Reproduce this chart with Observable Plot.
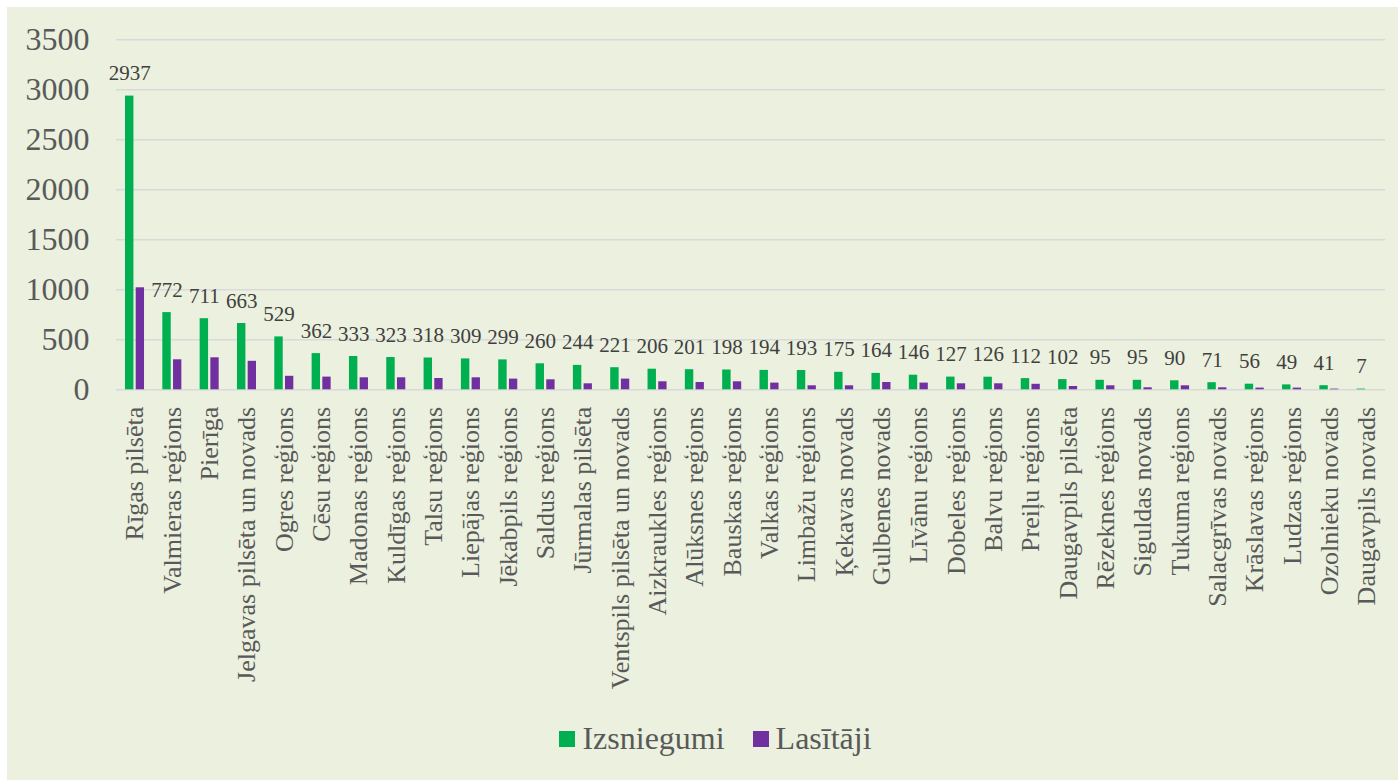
<!DOCTYPE html>
<html>
<head>
<meta charset="utf-8">
<script src="https://cdn.jsdelivr.net/npm/d3@7"></script>
<script src="https://cdn.jsdelivr.net/npm/@observablehq/plot@0.6"></script>
<style>
  html, body { margin: 0; padding: 0; background: #ffffff; }
  #frame { position: absolute; left: 7px; top: 7px; width: 1391px; height: 773px; background: #ebf1de; overflow: hidden; }
  #chart { position: absolute; left: 0; top: 0; }
  #legend { position: absolute; left: 13px; width: 1391px; top: 713px; display: flex; justify-content: center; align-items: center;
            font-family: "Liberation Serif", "Times New Roman", serif; font-size: 32px; color: #595959; }
  .item { display: flex; align-items: center; margin: 0 14px; }
  .sw { width: 16px; height: 16px; margin-right: 7px; }
</style>
</head>
<body>
<div id="frame">
  <div id="chart"></div>
  <div id="legend"></div>
</div>
<script>
const categories = [
  "Rīgas pilsēta", "Valmieras reģions", "Pierīga", "Jelgavas pilsēta un novads", "Ogres reģions",
  "Cēsu reģions", "Madonas reģions", "Kuldīgas reģions", "Talsu reģions", "Liepājas reģions",
  "Jēkabpils reģions", "Saldus reģions", "Jūrmalas pilsēta", "Ventspils pilsēta un novads", "Aizkraukles reģions",
  "Alūksnes reģions", "Bauskas reģions", "Valkas reģions", "Limbažu reģions", "Ķekavas novads",
  "Gulbenes novads", "Līvānu reģions", "Dobeles reģions", "Balvu reģions", "Preiļu reģions",
  "Daugavpils pilsēta", "Rēzeknes reģions", "Siguldas novads", "Tukuma reģions", "Salacgrīvas novads",
  "Krāslavas reģions", "Ludzas reģions", "Ozolnieku novads", "Daugavpils novads"
];
const izsniegumi = [2937, 772, 711, 663, 529, 362, 333, 323, 318, 309, 299, 260, 244, 221, 206, 201, 198, 194, 193, 175, 164, 146, 127, 126, 112, 102, 95, 95, 90, 71, 56, 49, 41, 7];
const lasitaji = [1020, 300, 320, 285, 135, 127, 120, 120, 113, 120, 107, 100, 60, 107, 80, 73, 80, 67, 40, 40, 73, 67, 60, 60, 55, 33, 40, 20, 40, 20, 17, 17, 7, 0];
const yTicks = [0, 500, 1000, 1500, 2000, 2500, 3000, 3500];
const seriesNames = ["Izsniegumi", "Lasītāji"];
const seriesColors = ["#00b050", "#7030a0"];

const rows = categories.map((c, i) => ({c, g: izsniegumi[i], p: lasitaji[i]}));

const chart = Plot.plot({
  width: 1391,
  height: 690,
  marginLeft: 109,
  marginRight: 13,
  marginTop: 32.3,
  marginBottom: 307.7,
  style: {fontFamily: "'Liberation Serif', 'Times New Roman', serif", background: "transparent", color: "#595959"},
  x: {domain: categories, padding: 0, round: false},
  y: {domain: [0, 3500]},
  marks: [
    Plot.ruleY(yTicks, {stroke: "#d9d9d9", strokeWidth: 1.5}),
    Plot.barY(rows, {x: "c", y: "g", fill: seriesColors[0], insetLeft: 9, insetRight: 19.9}),
    Plot.barY(rows, {x: "c", y: "p", fill: seriesColors[1], insetLeft: 19.7, insetRight: 9.3}),
    Plot.text(rows, {x: "c", y: "g", text: d => String(d.g), dx: -5.4, dy: -16, lineAnchor: "bottom", fontSize: 21, fill: "#404040"}),
    Plot.axisY({ticks: yTicks, tickFormat: d => String(d), tickSize: 0, tickPadding: 27, fontSize: 32, fill: "#595959", label: null}),
    Plot.axisX({tickRotate: -90, tickSize: 0, tickPadding: 17, fontSize: 26, fill: "#595959", label: null})
  ]
});
document.getElementById("chart").appendChild(chart);

const legend = document.getElementById("legend");
seriesNames.forEach((n, i) => {
  const it = document.createElement("div");
  it.className = "item";
  const sw = document.createElement("div");
  sw.className = "sw";
  sw.style.background = seriesColors[i];
  const t = document.createElement("span");
  t.textContent = n;
  it.appendChild(sw); it.appendChild(t);
  legend.appendChild(it);
});
</script>
</body>
</html>
